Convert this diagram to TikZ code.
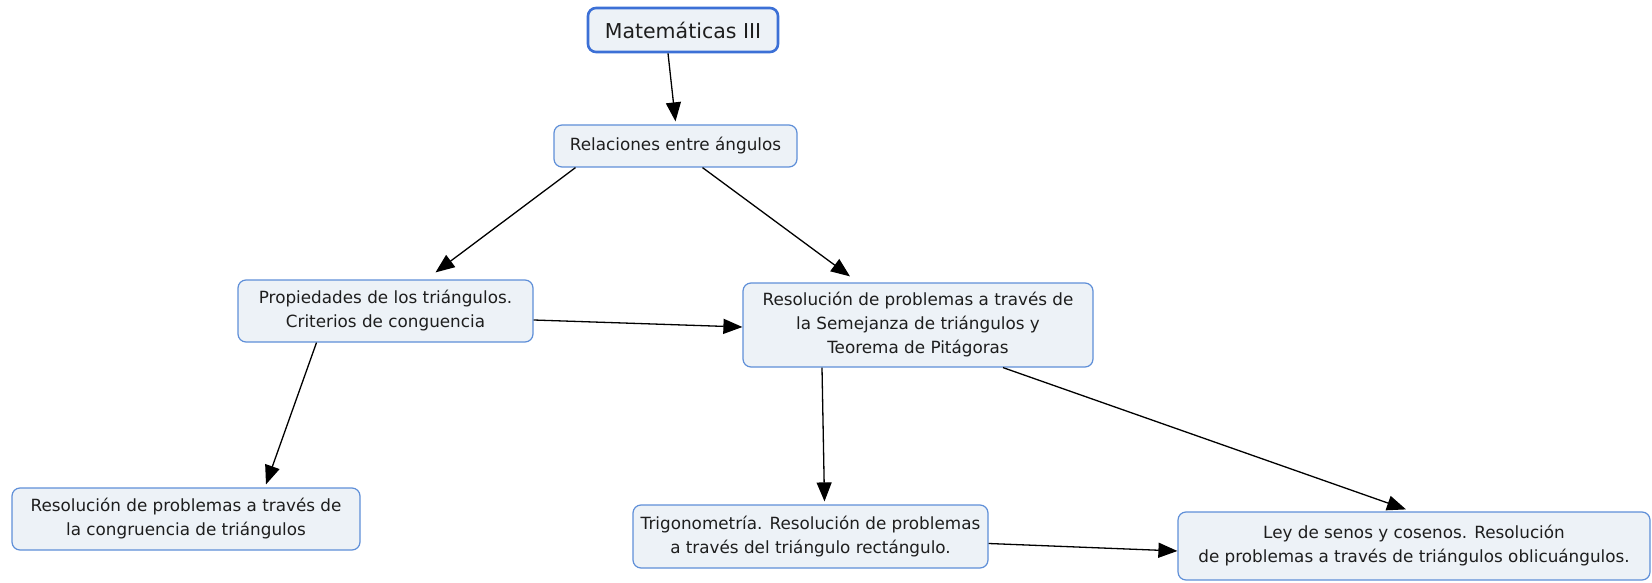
\documentclass[tikz,border=0pt]{standalone}
\usepackage{fontspec}
\setmainfont{DejaVu Sans}
\usetikzlibrary{arrows.meta}
\definecolor{boxfill}{HTML}{EDF2F7}
\definecolor{boxline}{HTML}{5F8FD8}
\definecolor{topline}{HTML}{3C70D6}
\definecolor{txt}{HTML}{1E1E1E}
\tikzset{
  concept/.style={draw=boxline, fill=boxfill, line width=1.2pt, rounded corners=8pt,
    align=center, inner sep=0pt, text=txt, font=\fontsize{16.8}{24}\selectfont},
  topconcept/.style={concept, draw=topline, line width=2.6pt, font=\fontsize{20.5}{24}\selectfont},
  link/.style={line width=1.3pt, -{Triangle[length=19pt,width=15pt]}, black}
}
\begin{document}
\begin{tikzpicture}[x=1pt,y=-1pt]
\useasboundingbox (0,0) rectangle (1652,583);
\node[topconcept, minimum width=190pt, minimum height=44pt] (mat) at (683,30) {Matemáticas III};
\node[concept, minimum width=243pt, minimum height=42pt] (rel) at (675.5,146) {Relaciones entre ángulos};
\node[concept, minimum width=295pt, minimum height=62pt] (prop) at (385.5,311) {Propiedades de los triángulos.\\Criterios de conguencia};
\node[concept, minimum width=350pt, minimum height=84pt] (sem) at (918,325) {Resolución de problemas a través de\\la Semejanza de triángulos y\\Teorema de Pitágoras};
\node[concept, minimum width=348pt, minimum height=62pt] (cong) at (186,519) {Resolución de problemas a través de\\la congruencia de triángulos};
\node[concept, minimum width=355pt, minimum height=63pt] (trig) at (810.5,536.5) {Trigonometría. Resolución de problemas\\a través del triángulo rectángulo.};
\node[concept, minimum width=472pt, minimum height=68pt] (ley) at (1414,546) {Ley de senos y cosenos. Resolución\\de problemas a través de triángulos oblicuángulos.};

\draw[link] ([xshift=-15pt]mat.south) -- ([yshift=3pt]rel.north);
\draw[link] ([xshift=-100pt]rel.south) -- ([xshift=50pt,yshift=7pt]prop.north);
\draw[link] ([xshift=27pt]rel.south) -- ([xshift=-68pt,yshift=6pt]sem.north);
\draw[link] ([yshift=-9pt]prop.east) -- ([yshift=-2pt]sem.west);
\draw[link] ([xshift=-69pt]prop.south) -- ([xshift=80pt,yshift=3pt]cong.north);
\draw[link] ([xshift=-96pt]sem.south) -- ([xshift=14pt,yshift=3pt]trig.north);
\draw[link] ([xshift=85pt]sem.south) -- ([xshift=-8pt,yshift=2pt]ley.north);
\draw[link] ([yshift=-7pt]trig.east) -- ([yshift=-5pt]ley.west);
\end{tikzpicture}
\end{document}
